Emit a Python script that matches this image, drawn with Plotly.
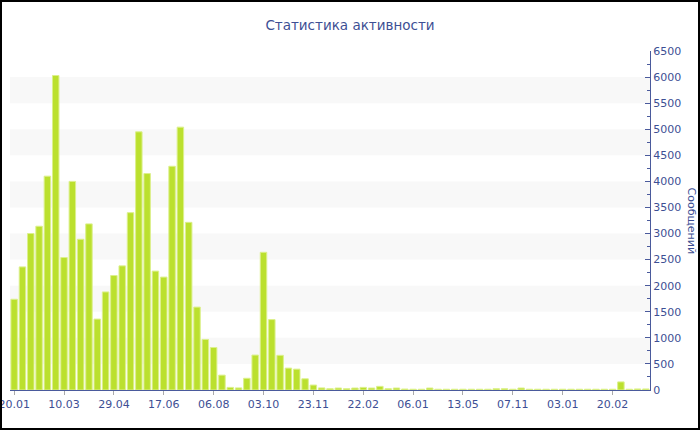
import plotly.graph_objects as go

# weekly message counts (77 periods)
values = [1740, 2360, 3000, 3140, 4100, 6030, 2540, 4000, 2890, 3185,
          1360, 1880, 2195, 2380, 3400, 4950, 4150, 2280, 2165, 4290,
          5040, 3215, 1590, 970, 815, 285, 50, 40, 225, 670,
          2640, 1350, 665, 420, 400, 215, 95, 40, 25, 38,
          25, 38, 50, 38, 70, 25, 38, 19, 15, 15,
          38, 15, 15, 15, 15, 15, 15, 15, 25, 25,
          15, 38, 15, 15, 15, 15, 15, 15, 15, 15,
          15, 15, 15, 155, 15, 20, 20]
periods = list(range(len(values)))
tick_positions = [0, 6, 12, 18, 24, 30, 36, 42, 48, 54, 60, 66, 72]
tick_labels = ["20.01", "10.03", "29.04", "17.06", "06.08", "03.10", "23.11",
               "22.02", "06.01", "13.05", "07.11", "03.01", "20.02"]
band_starts = [500, 1500, 2500, 3500, 4500, 5500]

TXT = "#3d4f94"
W, H = 700, 430
ML, MR, MT, MB = 10, 50, 51, 40
PW, PH = W - ML - MR, H - MT - MB

fig = go.Figure()
fig.add_trace(go.Bar(
    x=periods, y=values,
    marker=dict(color="#bbe02e", line=dict(color="#dcf08c", width=1)),
    width=0.78,
))

shapes = []
for b in band_starts:
    shapes.append(dict(type="rect", xref="paper", yref="y", x0=0, x1=1,
                       y0=b, y1=b + 500, fillcolor="#f8f8f8", line=dict(width=0),
                       layer="below"))
# outer border
shapes.append(dict(type="rect", xref="paper", yref="paper",
                   x0=(1 - ML) / PW, x1=1 + (MR - 1) / PW,
                   y0=-(MB - 1) / PH, y1=1 + (MT - 1) / PH,
                   line=dict(color="black", width=2), fillcolor="rgba(0,0,0,0)"))

fig.update_layout(
    width=W, height=H,
    margin=dict(l=ML, r=MR, t=MT, b=MB, autoexpand=False),
    paper_bgcolor="white", plot_bgcolor="white",
    font=dict(family="DejaVu Sans", size=11, color=TXT),
    title=dict(text="Статистика активности", x=0.5, xanchor="center",
               xref="container", yref="container",
               y=1 - 25 / H, yanchor="middle",
               font=dict(family="DejaVu Sans", size=13.5, color=TXT)),
    showlegend=False,
    bargap=0.2,
    shapes=shapes,
    xaxis=dict(range=[-0.5, len(values) - 0.5], tickmode="array",
               tickvals=tick_positions, ticktext=tick_labels,
               showgrid=False, zeroline=False, showline=True,
               linecolor="#4a5a9c", linewidth=1, automargin=False,
               ticklabeloverflow="allow",
               ticks="outside", ticklen=4, tickcolor="#aaaaaa",
               tickfont=dict(size=11, color=TXT)),
    yaxis=dict(side="right", range=[0, 6500], dtick=500, tick0=0,
               showgrid=False, zeroline=False, showline=True,
               linecolor="#4a5a9c", linewidth=1, automargin=False,
               ticklabeloverflow="allow",
               ticks="inside", ticklen=5, tickcolor="#4a5a9c",
               minor=dict(dtick=250, ticks="inside", ticklen=3, tickcolor="#4a5a9c"),
               tickfont=dict(size=11, color=TXT)),
    annotations=[dict(text="Сообщений", xref="paper", yref="paper",
                      x=1 + 41 / PW, y=0.5, xanchor="center", yanchor="middle",
                      textangle=90, showarrow=False,
                      font=dict(family="DejaVu Sans", size=11, color=TXT))],
)

fig.write_html("out.html",
               config={"displayModeBar": False},
               post_script="document.body.style.margin='0';document.body.style.overflow='hidden';")
